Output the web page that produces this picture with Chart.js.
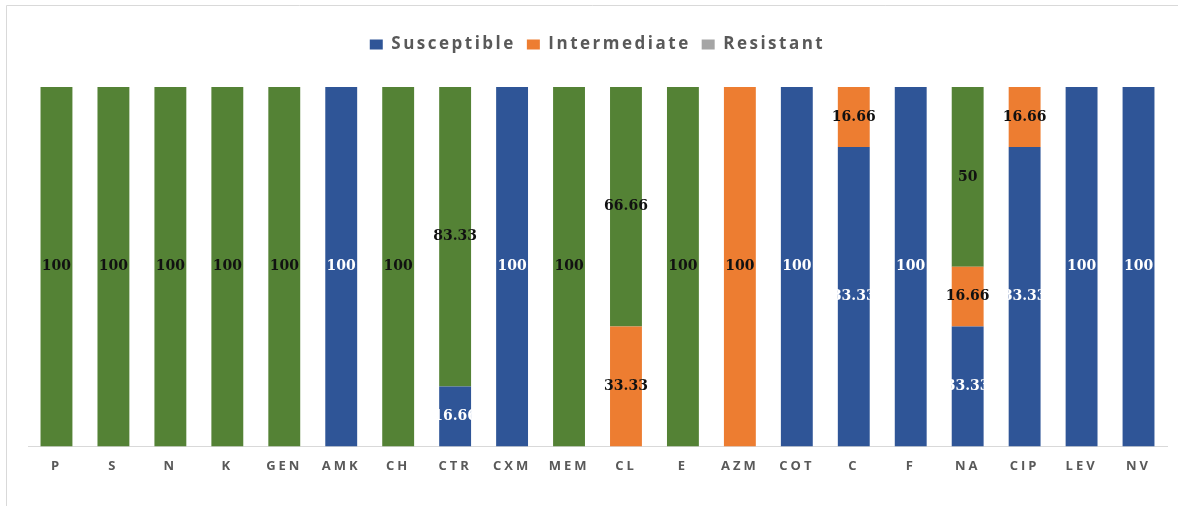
<!DOCTYPE html>
<html>
<head>
<meta charset="utf-8">
<script src="https://cdn.jsdelivr.net/npm/chart.js@4.4.0/dist/chart.umd.min.js"></script>
<style>
  html, body { margin: 0; padding: 0; background: #fff; }
  #wrap { width: 1178px; height: 506px; position: relative; }
</style>
</head>
<body>
<div id="wrap"><canvas id="abChart"></canvas></div>
<script>
const antibiotics = ["P", "S", "N", "K", "GEN", "AMK", "CH", "CTR", "CXM", "MEM", "CL", "E", "AZM", "COT", "C", "F", "NA", "CIP", "LEV", "NV"];
const susceptible = [0, 0, 0, 0, 0, 100, 0, 16.66, 100, 0, 0, 0, 0, 100, 83.33, 100, 33.33, 83.33, 100, 100];
const intermediate = [0, 0, 0, 0, 0, 0, 0, 0, 0, 0, 33.33, 0, 100, 0, 16.66, 0, 16.66, 16.66, 0, 0];
const resistant = [100, 100, 100, 100, 100, 0, 100, 83.33, 0, 100, 66.66, 100, 0, 0, 0, 0, 50, 0, 0, 0];

// light frame round the picture (cut at right and bottom)
const framePlugin = {
    id: 'frame',
    beforeLayout(chart) {
        chart.ctx.letterSpacing = '2.5px';
    },
    beforeDraw(chart) {
        const ctx = chart.ctx;
        ctx.save();
        ctx.strokeStyle = '#d9d9d9';
        ctx.lineWidth = 1;
        ctx.beginPath();
        ctx.moveTo(6.5, chart.height);
        ctx.lineTo(6.5, 5.5);
        ctx.lineTo(chart.width, 5.5);
        ctx.stroke();
        ctx.restore();
        ctx.letterSpacing = '2.5px';
    }
};

// values written in the middle of each segment
const valueLabels = {
    id: 'valueLabels',
    afterDatasetsDraw(chart) {
        const ctx = chart.ctx;
        ctx.save();
        ctx.letterSpacing = '0px';
        ctx.font = 'bold 14px "DejaVu Serif"';
        ctx.textAlign = 'center';
        ctx.textBaseline = 'middle';
        chart.data.datasets.forEach((ds, i) => {
            const meta = chart.getDatasetMeta(i);
            meta.data.forEach((bar, j) => {
                const v = ds.data[j];
                if (!v) return;
                ctx.fillStyle = i === 0 ? '#ffffff' : '#111111';
                ctx.fillText(String(v), bar.x, (bar.y + bar.base) / 2);
            });
        });
        ctx.restore();
        // x tick labels are drawn after this, spaced out
        ctx.letterSpacing = '3px';
    }
};

new Chart(document.getElementById('abChart'), {
    type: 'bar',
    data: {
        labels: antibiotics,
        datasets: [
            { label: 'Susceptible', data: susceptible, backgroundColor: '#2f5597' },
            { label: 'Intermediate', data: intermediate, backgroundColor: '#ed7d31' },
            { label: 'Resistant', data: resistant, backgroundColor: '#548235' }
        ]
    },
    options: {
        responsive: true,
        maintainAspectRatio: false,
        animation: false,
        barPercentage: 0.56,
        categoryPercentage: 1,
        layout: { padding: { left: 28, right: 11, top: 25, bottom: 20 } },
        plugins: {
            legend: {
                position: 'top',
                labels: {
                    boxWidth: 13,
                    boxHeight: 10,
                    padding: 11,
                    color: '#595959',
                    font: { family: 'Open Sans', size: 17, weight: '700' },
                    generateLabels(chart) {
                        const items = Chart.defaults.plugins.legend.labels.generateLabels(chart);
                        items.forEach(it => {
                            if (it.text === 'Resistant') {
                                it.fillStyle = '#a5a5a5';
                                it.strokeStyle = '#a5a5a5';
                            }
                        });
                        return items;
                    }
                }
            },
            subtitle: {
                display: true,
                text: ' ',
                weight: 500,
                font: { size: 10, lineHeight: 1 },
                padding: 7
            },
            tooltip: { enabled: false }
        },
        scales: {
            x: {
                stacked: true,
                grid: { display: false, drawTicks: false },
                border: { color: '#d9d9d9' },
                ticks: {
                    z: 1,
                    padding: 12,
                    autoSkip: false,
                    maxRotation: 0,
                    color: '#595959',
                    font: { family: 'Open Sans', size: 13, weight: '700' }
                }
            },
            y: {
                stacked: true,
                display: false,
                min: 0,
                max: 100
            }
        }
    },
    plugins: [framePlugin, valueLabels]
});
</script>
</body>
</html>
